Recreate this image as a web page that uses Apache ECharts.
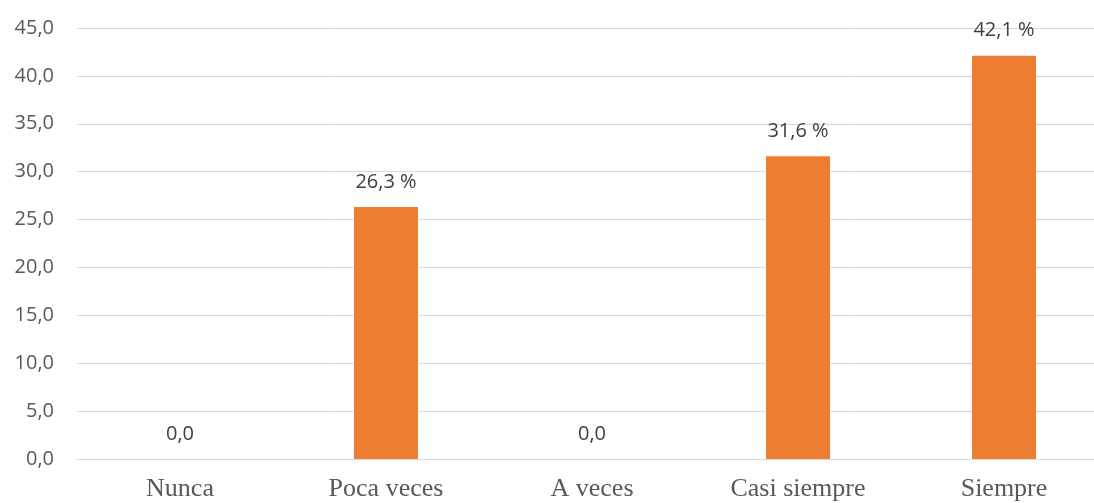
<!DOCTYPE html>
<html>
<head>
<meta charset="utf-8">
<script src="https://cdn.jsdelivr.net/npm/echarts@6/dist/echarts.min.js"></script>
<style>
  html, body { margin: 0; padding: 0; background: #fff; overflow: hidden; }
  /* the original plot runs a bit past the right edge, so the chart is wider than the window */
  #main { width: 1107px; height: 503px; }
</style>
</head>
<body>
<div id="main"></div>
<script>
var categories = ['Nunca', 'Poca veces', 'A veces', 'Casi siempre', 'Siempre'];
var values = [0, 26.3, 0, 31.6, 42.1];

var lineStyle = { color: '#D9D9D9', width: 1 };

function fmt(v) {
  return v.toFixed(1).replace('.', ',');
}

var chart = echarts.init(document.getElementById('main'));
chart.setOption({
  animation: false,
  grid: { left: 77, right: 0, top: 28, bottom: 44 },
  xAxis: {
    type: 'category',
    data: categories,
    axisTick: { show: false },
    axisLine: { lineStyle: lineStyle },
    axisLabel: {
      color: '#595959',
      fontFamily: 'Liberation Serif',
      fontSize: 26,
      margin: 17
    }
  },
  yAxis: {
    type: 'value',
    min: 0,
    max: 45,
    interval: 5,
    axisLine: { show: false },
    axisTick: { show: false },
    splitLine: { lineStyle: lineStyle },
    axisLabel: {
      color: '#595959',
      fontFamily: 'Open Sans',
      fontSize: 20,
      margin: 23,
      formatter: function (v) { return fmt(v); }
    }
  },
  series: [{
    type: 'bar',
    data: values,
    barWidth: 64,
    itemStyle: { color: '#ED7D31' },
    label: {
      show: true,
      position: 'top',
      distance: 15,
      color: '#404040',
      fontFamily: 'Open Sans',
      fontSize: 20,
      formatter: function (p) {
        return p.value === 0 ? fmt(p.value) : fmt(p.value) + ' %';
      }
    }
  }]
});
</script>
</body>
</html>
